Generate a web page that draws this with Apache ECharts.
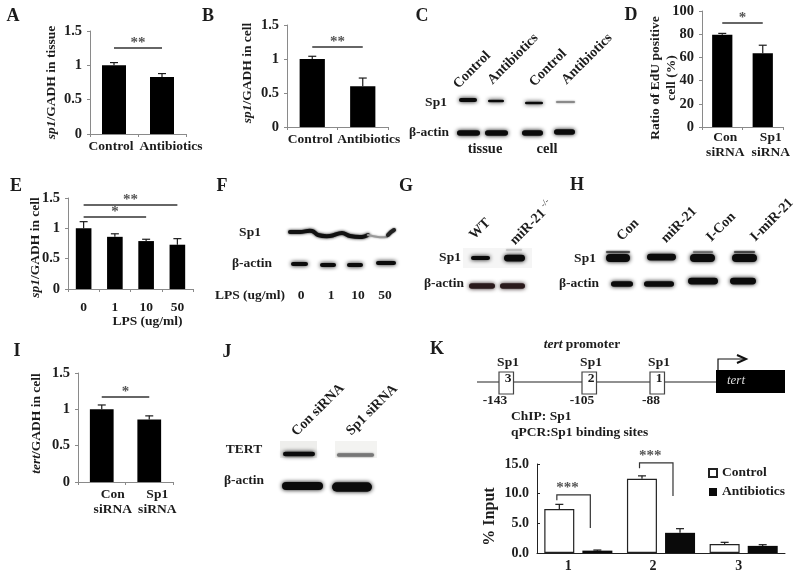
<!DOCTYPE html>
<html>
<head>
<meta charset="utf-8">
<style>
  html, body { margin: 0; padding: 0; background: #fff; }
  #main { width: 800px; height: 577px; }
</style>
<script src="https://cdn.jsdelivr.net/npm/echarts@6/dist/echarts.min.js"></script>
</head>
<body>
<div id="main"></div>
<script>
// values
var controlAntibiotics = ['Control', 'Antibiotics'];
var sirnaCategories = ['Con\nsiRNA', 'Sp1\nsiRNA'];
var lpsCategories = ['0', '1', '10', '50'];
var siteCategories = ['1', '2', '3'];

var aValues = [1.0, 0.83];
var aErrors = [0.04, 0.05];
var bValues = [1.0, 0.6];
var bErrors = [0.04, 0.12];
var dValues = [79.5, 63.5];
var dErrors = [1.2, 7];
var eValues = [1.0, 0.86, 0.79, 0.73];
var eErrors = [0.11, 0.05, 0.03, 0.10];
var iValues = [1.0, 0.86];
var iErrors = [0.06, 0.05];
var kControl = [7.4, 12.5, 1.5];
var kControlErrors = [0.8, 0.5, 0.3];
var kAntibiotics = [0.4, 3.4, 1.2];
var kAntibioticsErrors = [0.1, 0.7, 0.2];

var SERIF = '"Liberation Serif", "Times New Roman", serif';
var INK = '#1c1c1c';
var AXIS = '#8a8a8a';

var grids = [], xAxes = [], yAxes = [], series = [];

function errorSeries(idx, values, errors, shift) {
    var rows = values.map(function (v, i) { return [i, v, errors[i]]; });
    return {
        type: 'custom',
        xAxisIndex: idx,
        yAxisIndex: idx,
        silent: true,
        z: 1,
        data: rows,
        encode: { x: 0, y: 1 },
        renderItem: function (params, api) {
            var base = api.coord([api.value(0), api.value(1)]);
            var top = api.coord([api.value(0), api.value(1) + api.value(2)]);
            var x = base[0] + api.size([1, 0])[0] * shift;
            var cap = 4;
            var st = { stroke: INK, lineWidth: 1.2 };
            return {
                type: 'group',
                children: [
                    { type: 'line', shape: { x1: x, y1: base[1], x2: x, y2: top[1] }, style: st },
                    { type: 'line', shape: { x1: x - cap, y1: top[1], x2: x + cap, y2: top[1] }, style: st }
                ]
            };
        }
    };
}

function sigLines(list) {
    return {
        silent: true,
        symbol: 'none',
        animation: false,
        data: list.map(function (s) {
            return [
                {
                    coord: [s[0], s[2]],
                    lineStyle: { color: '#333', width: 1.5, type: 'solid' },
                    label: {
                        show: true, position: 'middle', formatter: s[3], distance: 0, offset: [0, 3],
                        color: '#555', fontFamily: SERIF, fontWeight: 'bold', fontSize: 15
                    }
                },
                { coord: [s[1], s[2]] }
            ];
        })
    };
}

function barPanel(box, cats, values, errors, max, interval, name, namePad, nameGap, shifts, margin, sig) {
    var idx = grids.length;
    grids.push({ left: box[0], top: box[1], width: box[2], height: box[3], outerBoundsMode: 'none' });
    var rich = {};
    cats.forEach(function (c, i) {
        var s = shifts[i];
        rich['s' + i] = {
            fontFamily: SERIF, fontWeight: 'bold', fontSize: 13.5, color: INK, lineHeight: 15,
            padding: s >= 0 ? [0, 0, 0, 2 * s] : [0, -2 * s, 0, 0]
        };
    });
    xAxes.push({
        type: 'category', gridIndex: idx, data: cats,
        axisLine: { lineStyle: { color: AXIS, width: 1 } },
        axisTick: { show: true, length: 3, lineStyle: { color: AXIS } },
        axisLabel: {
            interval: 0, margin: margin, hideOverlap: false,
            formatter: function (v, i) {
                return v.split('\n').map(function (l) { return '{s' + i + '|' + l + '}'; }).join('\n');
            },
            rich: rich
        }
    });
    yAxes.push({
        type: 'value', gridIndex: idx, min: 0, max: max, interval: interval,
        name: name, nameLocation: 'middle', nameGap: nameGap, nameRotate: 90,
        nameMoveOverlap: false,
        nameTextStyle: {
            fontFamily: SERIF, fontWeight: 'bold', fontSize: 13.5, color: INK, lineHeight: 16, padding: namePad,
            rich: { it: { fontFamily: SERIF, fontWeight: 'bold', fontStyle: 'italic', fontSize: 13.5, color: INK } }
        },
        splitLine: { show: false },
        axisLine: { show: true, lineStyle: { color: AXIS, width: 1 } },
        axisTick: { show: true, length: 3, lineStyle: { color: AXIS } },
        axisLabel: { margin: 8, fontFamily: SERIF, fontWeight: 'bold', fontSize: 14.5, color: INK }
    });
    series.push({
        type: 'bar', xAxisIndex: idx, yAxisIndex: idx, data: values,
        barWidth: '50%', silent: true, z: 2,
        itemStyle: { color: '#000' },
        markLine: sigLines(sig)
    });
    series.push(errorSeries(idx, values, errors, 0));
    return idx;
}

barPanel([90, 31, 96, 103], controlAntibiotics, aValues, aErrors, 1.5, 0.5,
    '{it|sp1}/GADH in tissue', [0, 0, 0, 0], 30, [-3, 9], 5, [[0, 1, 1.26, '**']]);
barPanel([287, 25, 101, 102], controlAntibiotics, bValues, bErrors, 1.5, 0.5,
    '{it|sp1}/GADH in cell', [0, 0, 0, 6], 31, [-2, 6], 5, [[0, 1, 1.18, '**']]);
barPanel([702, 11, 81, 116], sirnaCategories, dValues, dErrors, 100, 20,
    'Ratio of EdU positive\ncell (%)', [0, 18, 0, 0], 22, [3, 8], 3, [[0, 1, 89.6, '*']]);
var eIdx = barPanel([68, 198, 125, 91], lpsCategories, eValues, eErrors, 1.5, 0.5,
    '{it|sp1}/GADH in cell', [0, 8, 0, 0], 24, [0, 0, 0, 0], 11, [[0, 3, 1.39, '**'], [0, 2, 1.19, '*']]);
xAxes[eIdx].name = 'LPS (ug/ml)';
xAxes[eIdx].nameLocation = 'middle';
xAxes[eIdx].nameGap = 26;
xAxes[eIdx].nameMoveOverlap = false;
xAxes[eIdx].nameTextStyle = {
    fontFamily: SERIF, fontWeight: 'bold', fontSize: 13.5, color: INK, padding: [0, 0, 0, 34]
};
barPanel([78, 373, 95, 109], sirnaCategories, iValues, iErrors, 1.5, 0.5,
    '{it|tert}/GADH in cell', [0, 0, 0, 8], 33, [11, 8], 5, [[0, 1, 1.18, '*']]);

// panel K, grouped bars with a legend and brackets
var kIdx = grids.length;
grids.push({ left: 537, top: 464, width: 248, height: 89, outerBoundsMode: 'none' });
xAxes.push({
    type: 'category', gridIndex: kIdx, data: siteCategories,
    axisLine: { lineStyle: { color: '#222', width: 1 } },
    axisTick: { show: false },
    axisLabel: {
        margin: 6, interval: 0,
        formatter: function (v, i) { return '{s' + i + '|' + v + '}'; },
        rich: {
            s0: { fontFamily: SERIF, fontWeight: 'bold', fontSize: 14, color: INK, padding: [0, 20, 0, 0] },
            s1: { fontFamily: SERIF, fontWeight: 'bold', fontSize: 14, color: INK, padding: [0, 16, 0, 0] },
            s2: { fontFamily: SERIF, fontWeight: 'bold', fontSize: 14, color: INK, padding: [0, 10, 0, 0] }
        }
    }
});
yAxes.push({
    type: 'value', gridIndex: kIdx, min: 0, max: 15, interval: 5,
    name: '% Input', nameLocation: 'middle', nameGap: 39, nameRotate: 90,
    nameMoveOverlap: false,
    nameTextStyle: { fontFamily: SERIF, fontWeight: 'bold', fontSize: 16, color: INK, padding: [0, 16, 0, 0] },
    splitLine: { show: false },
    axisLine: { show: true, lineStyle: { color: '#222', width: 1 } },
    axisTick: { show: true, inside: true, length: 3, lineStyle: { color: '#222' } },
    axisLabel: {
        margin: 8, fontFamily: SERIF, fontWeight: 'bold', fontSize: 14, color: INK,
        formatter: function (v) { return v.toFixed(1); }
    }
});
series.push({
    type: 'bar', name: 'Control', xAxisIndex: kIdx, yAxisIndex: kIdx, data: kControl,
    barWidth: 30, barGap: '27%', silent: true, z: 2,
    itemStyle: { color: '#fff', borderColor: '#222', borderWidth: 1.2 }
});
series.push({
    type: 'bar', name: 'Antibiotics', xAxisIndex: kIdx, yAxisIndex: kIdx, data: kAntibiotics,
    barWidth: 30, silent: true, z: 2,
    itemStyle: { color: '#0a0a0a' }
});
series.push(errorSeries(kIdx, kControl, kControlErrors, -0.23));
series.push(errorSeries(kIdx, kAntibiotics, kAntibioticsErrors, 0.23));

// brackets: category, top value, left leg end, right leg end
var kBrackets = [[0, 9.8, 8.9, 4.2], [1, 15.2, 14.3, 9.6]];
series.push({
    type: 'custom', xAxisIndex: kIdx, yAxisIndex: kIdx, silent: true, z: 3,
    data: kBrackets,
    encode: { x: 0, y: 1 },
    renderItem: function (params, api) {
        var c = api.coord([api.value(0), api.value(1)]);
        var band = api.size([1, 0])[0];
        var xl = c[0] - band * 0.26, xr = c[0] + band * 0.145;
        var yl = api.coord([api.value(0), api.value(2)])[1];
        var yr = api.coord([api.value(0), api.value(3)])[1];
        return {
            type: 'group',
            children: [
                { type: 'polyline', shape: { points: [[xl, yl], [xl, c[1]], [xr, c[1]], [xr, yr]] },
                  style: { stroke: '#333', lineWidth: 1.2, fill: null } },
                { type: 'text', x: (xl + xr) / 2 - 6, y: c[1] - 7,
                  style: { text: '***', fill: '#555', font: 'bold 15px ' + SERIF, align: 'center', verticalAlign: 'middle' } }
            ]
        };
    }
});

// helpers for the annotations and the blots
var gfx = [];
function txt(s, x, y, size, rot, extra) {
    gfx.push({
        type: 'text', x: x, y: y, z: 5, rotation: (rot || 0) * Math.PI / 180, silent: true,
        style: Object.assign({
            text: s, fill: INK, font: 'bold ' + size + 'px ' + SERIF,
            align: 'center', verticalAlign: 'middle'
        }, extra || {})
    });
}
// one blot band
function band(x1, x2, y, h, col, blur) {
    var hh = h * 1.35;
    gfx.push({
        type: 'rect', silent: true,
        shape: { x: x1 + 2, y: y - hh / 2, width: x2 - x1 - 4, height: hh, r: hh / 2 },
        style: { fill: col || '#0b0b0b', shadowBlur: blur === undefined ? 4 : blur, shadowColor: col || '#0b0b0b' }
    });
}
function smear(points, w, col, blur) {
    gfx.push({
        type: 'polyline', silent: true, shape: { points: points, smooth: 0.4 },
        style: { stroke: col, lineWidth: w, fill: null, lineCap: 'round', shadowBlur: blur, shadowColor: col }
    });
}
function patch(x, y, w, h, col) {
    gfx.push({ type: 'rect', silent: true, shape: { x: x, y: y, width: w, height: h }, style: { fill: col } });
}
function ln(x1, y1, x2, y2, w, col) {
    gfx.push({
        type: 'line', silent: true, shape: { x1: x1, y1: y1, x2: x2, y2: y2 },
        style: { stroke: col || '#222', lineWidth: w || 1.2 }
    });
}

// panel letters
[['A', 13, 16], ['B', 208, 16], ['C', 422, 16], ['D', 631, 15], ['E', 16, 186], ['F', 222, 186],
 ['G', 406, 186], ['H', 577, 185], ['I', 17, 351], ['J', 227, 352], ['K', 437, 349]].forEach(function (p) {
    txt(p[0], p[1], p[2], 18);
});

// C
txt('Control', 472, 70, 14, 45);
txt('Antibiotics', 513, 59, 14, 45);
txt('Control', 548, 68, 14, 45);
txt('Antibiotics', 587, 59, 14, 45);
txt('Sp1', 436, 103, 13.5);
txt('β-actin', 429, 133, 13.5);
txt('tissue', 485, 149, 14.5);
txt('cell', 547, 149, 14.5);
band(457, 479, 100, 3);
band(486, 506, 101, 2);
band(523, 545, 103, 2);
band(554, 577, 102, 1.5, '#8a8a8a', 2);
band(455, 482, 133, 4);
band(483, 510, 133, 4);
band(520, 545, 133, 4);
band(552, 577, 132, 4);

// F
txt('Sp1', 250, 233, 13.5);
txt('β-actin', 252, 264, 13.5);
txt('LPS (ug/ml)', 250, 296, 13.5);
txt('0', 301, 296, 13.5);
txt('1', 331, 296, 13.5);
txt('10', 358, 296, 13.5);
txt('50', 385, 296, 13.5);
smear([[290, 232], [300, 232], [312, 231], [318, 235], [330, 236], [342, 233], [350, 236], [362, 237], [368, 235]], 4, '#111', 3);
smear([[368, 235], [378, 237], [387, 237]], 2, '#999', 2);
smear([[388, 235], [391, 232], [394, 230]], 4, '#222', 2);
band(289, 310, 264, 3);
band(318, 338, 265, 3);
band(345, 365, 265, 3);
band(374, 398, 263, 3);

// G
patch(463, 248, 69, 20, '#f5f5f5');
txt('WT', 480, 229, 14, 45);
txt('miR-21', 528, 227, 14, 45);
txt('-/-', 545, 203, 8, 45, { font: '9px ' + SERIF });
txt('Sp1', 450, 258, 13.5);
txt('β-actin', 444, 284, 13.5);
band(469, 492, 258, 3);
band(502, 527, 258, 5);
band(504, 524, 250, 1.5, '#c4c4c4', 2);
band(467, 497, 286, 4, '#2a1a1c');
band(498, 527, 286, 4, '#2a1a1c');

// H
txt('Con', 628, 230, 14, 45);
txt('miR-21', 679, 225, 14, 45);
txt('I-Con', 721, 227, 14, 45);
txt('I-miR-21', 772, 220, 14, 45);
txt('Sp1', 585, 259, 13.5);
txt('β-actin', 579, 284, 13.5);
band(604, 632, 252, 1.5, '#555', 2);
band(691, 715, 252, 1.5, '#888', 2);
band(732, 757, 252, 1.5, '#555', 2);
band(604, 632, 258, 6);
band(645, 678, 257, 5);
band(688, 717, 258, 6);
band(730, 759, 258, 6);
band(609, 635, 284, 4);
band(642, 676, 284, 4);
band(686, 720, 281, 5);
band(728, 758, 281, 5);

// J
patch(280, 441, 37, 17, '#eeeeec');
patch(335, 441, 42, 17, '#f3f3f1');
txt('Con siRNA', 318, 410, 14, 45);
txt('Sp1 siRNA', 372, 410, 14, 45);
txt('TERT', 244, 450, 13.5);
txt('β-actin', 244, 481, 13.5);
band(281, 317, 454, 3.5);
band(335, 376, 455, 2.5, '#777', 2);
band(280, 325, 486, 6);
band(330, 374, 487, 7);

// K promoter diagram
txt('{it|tert} promoter', 582, 345, 13.5, 0, {
    rich: { it: { font: 'italic bold 13.5px ' + SERIF, fill: INK } }
});
ln(477, 382, 716, 382);
[[499, '3'], [582, '2'], [650, '1']].forEach(function (b) {
    gfx.push({
        type: 'rect', silent: true, z: 2, shape: { x: b[0], y: 372, width: 14.5, height: 22 },
        style: { fill: '#fff', stroke: '#444', lineWidth: 1.2 }
    });
    txt(b[1], b[0] + 9, 379, 13.5);
    txt('Sp1', b[0] + 9, 363, 13.5);
});
txt('-143', 495, 401, 13.5);
txt('-105', 582, 401, 13.5);
txt('-88', 651, 401, 13.5);
patch(716, 370, 69, 23, '#000');
txt('tert', 736, 381, 13, 0, { fill: '#ddd', font: 'italic 13px ' + SERIF });
gfx.push({
    type: 'polyline', silent: true, shape: { points: [[718, 370], [718, 359], [745, 359]] },
    style: { stroke: '#111', lineWidth: 1.2, fill: null }
});
gfx.push({
    type: 'polyline', silent: true, shape: { points: [[737, 355], [746, 359], [737, 363]] },
    style: { stroke: '#111', lineWidth: 2, fill: null }
});
txt('ChIP: Sp1', 511, 417, 13.5, 0, { align: 'left' });
txt('qPCR:Sp1 binding sites', 511, 433, 13.5, 0, { align: 'left' });

var myChart = echarts.init(document.getElementById('main'));
var option = {
    animation: false,
    backgroundColor: '#fff',
    grid: grids,
    xAxis: xAxes,
    yAxis: yAxes,
    legend: {
        data: ['Control', 'Antibiotics'],
        orient: 'vertical',
        left: 708, top: 466, padding: 0,
        itemWidth: 8, itemHeight: 8, itemGap: 5,
        icon: 'rect',
        selectedMode: false,
        textStyle: { fontFamily: SERIF, fontWeight: 'bold', fontSize: 13.5, color: INK }
    },
    series: series,
    graphic: { elements: gfx }
};
myChart.setOption(option);
</script>
</body>
</html>
